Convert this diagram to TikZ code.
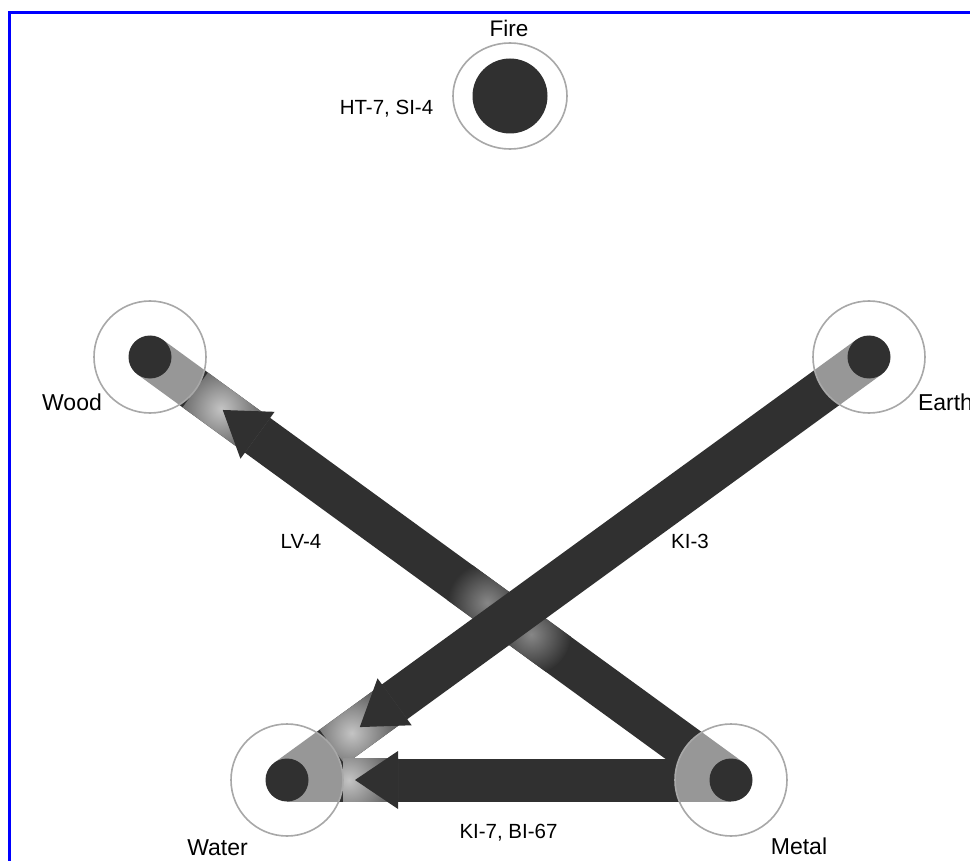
\documentclass[tikz,border=0pt]{standalone}
\usepackage{fontspec}
\setmainfont{Liberation Sans}
\usetikzlibrary{calc,shapes.geometric}
\pgfdeclarelayer{bg}
\pgfsetlayers{bg,main}
\definecolor{band}{RGB}{48,48,48}
\definecolor{ring}{RGB}{168,168,168}
\definecolor{glow}{RGB}{196,196,196}
\definecolor{xglow}{RGB}{135,135,135}
\definecolor{frameblue}{RGB}{0,0,255}
\newcommand\glowzone[5]{%
  \begin{scope}
    \path ($(#1.center)!#3pt!(#2.center)$) coordinate (g1)
          ($(#1.center)!#4pt!(#2.center)$) coordinate (g2);
    \clip ($(g1)!21.5pt!90:(g2)$) -- ($(g2)!21.5pt!-90:(g1)$)
       -- ($(g2)!21.5pt!90:(g1)$) -- ($(g1)!21.5pt!-90:(g2)$) -- cycle;
    \shade[inner color=glow, outer color=band] ($(#1.center)!#5pt!(#2.center)$) circle (66pt);
  \end{scope}}
\newcommand\headtri[4]{%
  \path ($(#1.center)!#3pt!(#2.center)$) coordinate (ht)
        ($(#1.center)!#4pt!(#2.center)$) coordinate (hb);
  \fill[band] (ht) -- ($(hb)!29pt!90:(ht)$) -- ($(hb)!29pt!-90:(ht)$) -- cycle;}
\tikzset{
  dot/.style={circle, fill=band, inner sep=0pt, minimum size=43pt},
  halo/.style={circle, draw=ring, line width=1.6pt, fill=white, fill opacity=0.5, inner sep=0pt, minimum size=112pt},
  bandline/.style={draw=band, line width=43pt},
  namelbl/.style={font=\fontsize{23}{27}\selectfont, anchor=base, inner sep=0pt},
  ptlbl/.style={font=\fontsize{20.5}{24}\selectfont, anchor=base, inner sep=0pt},
  frameline/.style={draw=frameblue, line width=3.3pt},
}
\begin{document}
\begin{tikzpicture}[x=1pt,y=-1pt]
\useasboundingbox (0,0) rectangle (970,861);
\begin{pgfonlayer}{bg}
  \fill[white] (0,0) rectangle (970,861);
\end{pgfonlayer}
\draw[frameline] (9.3,861) -- (9.3,12.7) -- (970,12.7);

% rings and dots
\node[ellipse, draw=ring, line width=1.6pt, inner sep=0pt, minimum width=114pt, minimum height=106pt] (firering) at (510,96) {};
\node[dot, minimum size=75pt] (fire) at (510,96) {};
\node[halo] (woodring) at (150,357) {};
\node[dot] (wood) at (150,357) {};
\node[halo] (earthring) at (869,357) {};
\node[dot] (earth) at (869,357) {};
\node[halo] (waterring) at (287,780) {};
\node[dot] (water) at (287,780) {};
\node[halo] (metalring) at (731,780) {};
\node[dot] (metal) at (731,780) {};

\begin{pgfonlayer}{bg}
  \draw[bandline] (metal.center) -- (wood.center);
  \coordinate (X) at (intersection of wood.center--metal.center and earth.center--water.center);
  \begin{scope}
    \clip ($(wood.center)!21.5pt!90:(metal.center)$) -- ($(metal.center)!21.5pt!-90:(wood.center)$)
       -- ($(metal.center)!21.5pt!90:(wood.center)$) -- ($(wood.center)!21.5pt!-90:(metal.center)$) -- cycle;
    \shade[inner color=xglow, outer color=band] ($(X)!27pt!(wood.center)$) circle (40pt);
    \shade[inner color=xglow, outer color=band] ($(X)!27pt!(metal.center)$) circle (40pt);
  \end{scope}
  \draw[bandline] (earth.center) -- (water.center);
  \draw[bandline] (metal.center) -- (water.center);
  \glowzone{wood}{metal}{56}{133}{88}
  \glowzone{water}{earth}{56}{133}{80}
  \glowzone{water}{metal}{56}{111}{62}
  \headtri{wood}{metal}{90}{133}
  \headtri{water}{earth}{90}{133}
  \headtri{water}{metal}{68}{111}
\end{pgfonlayer}

% labels
\node[namelbl, font=\fontsize{22.5}{26}\selectfont] (firelbl) at (509,37) {Fire};
\node[ptlbl] (htlbl) at (386.5,115) {HT-7, SI-4};
\node[namelbl] (woodlbl) at (72,410) {Wood};
\node[namelbl] (earthlbl) at (945.5,410) {Earth};
\node[namelbl] (waterlbl) at (217.5,855) {Water};
\node[namelbl] (metallbl) at (799,854) {Metal};
\node[ptlbl] (lvlbl) at (301,548) {LV-4};
\node[ptlbl] (kilbl) at (690,548) {KI-3};
\node[ptlbl] (kbl) at (508.5,838) {KI-7, BI-67};
\end{tikzpicture}
\end{document}
